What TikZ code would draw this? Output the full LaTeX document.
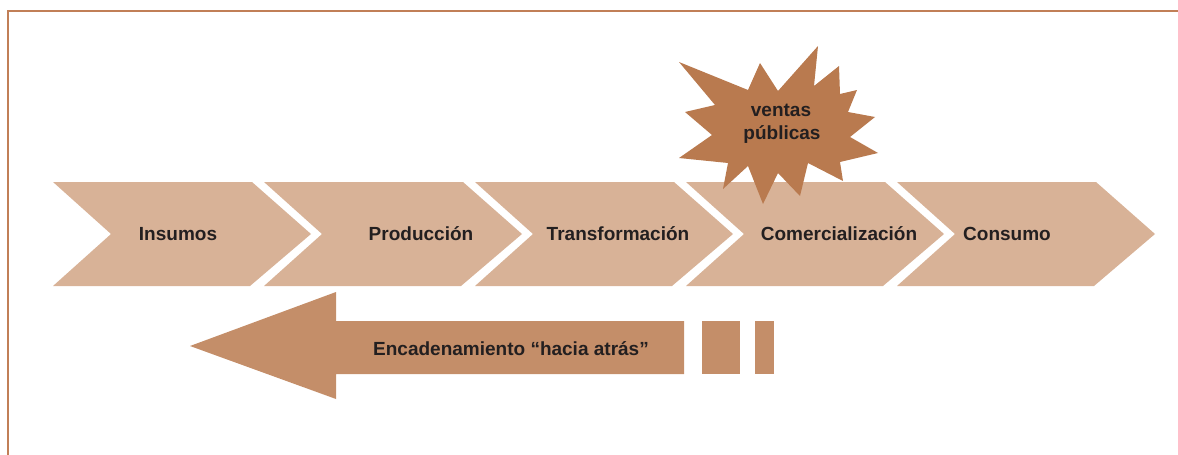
\documentclass[tikz,border=0pt]{standalone}
\usepackage{fontspec}
\setmainfont{Liberation Sans}
\definecolor{chev}{HTML}{D8B297}
\definecolor{burst}{HTML}{B97A4F}
\definecolor{backarrow}{HTML}{C48E69}
\definecolor{frame}{HTML}{C17F57}
\definecolor{ink}{HTML}{231F20}
\tikzset{
  lbl/.style={font=\fontsize{19}{23}\selectfont\bfseries, text=ink, inner sep=0pt, anchor=base},
  chevfill/.style={fill=chev, draw=none},
}
\begin{document}
\begin{tikzpicture}[x=1pt,y=-1pt]
\useasboundingbox (0,0) rectangle (1178,455);
% frame
\draw[frame, line width=2.6pt] (8,470) -- (8,11) -- (1190,11);
% chevrons
\foreach \x in {53,264,475,686,897}{
  \fill[chevfill] (\x,182) -- ({\x+199},182) -- ({\x+258},234) -- ({\x+197},286)
     -- (\x,286) -- ({\x+58},234) -- cycle;
}
% burst
\fill[burst] (679,62) -- (748,90) -- (760,63) -- (778,91) -- (818,46) -- (814,86)
  -- (839,66) -- (840,94) -- (857,90) -- (848,112) -- (875,117) -- (850,137)
  -- (878,153) -- (840,162) -- (843,181) -- (808,163) -- (800,196) -- (778,173)
  -- (763,204) -- (748,166) -- (723,189) -- (728,163) -- (679,158) -- (712,135)
  -- (685,112) -- (715,105) -- cycle;
% back arrow
\fill[backarrow] (190,346) -- (336,292) -- (336,321) -- (684,321) -- (684,374)
  -- (336,374) -- (336,399) -- cycle;
\fill[backarrow] (702,321) rectangle (740,374);
\fill[backarrow] (755,321) rectangle (774,374);
% labels
\node[lbl] (insumos) at (178,240) {Insumos};
\node[lbl] (produccion) at (421,240) {Producción};
\node[lbl] (transformacion) at (618,240) {Transformación};
\node[lbl] (comercializacion) at (839,240) {Comercialización};
\node[lbl] (consumo) at (1007,240) {Consumo};
\node[lbl] (ventas) at (781,116) {ventas};
\node[lbl] (publicas) at (782,139) {públicas};
\node[lbl] (encadenamiento) at (511,355) {Encadenamiento “hacia atrás”};
\end{tikzpicture}
\end{document}
